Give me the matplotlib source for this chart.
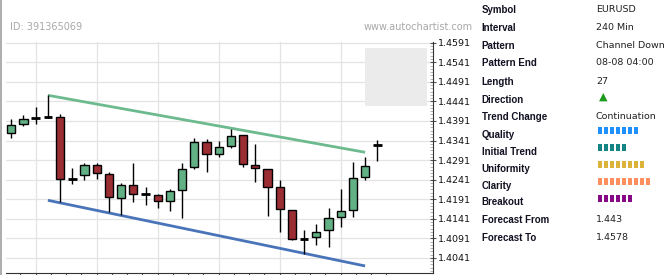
import matplotlib
matplotlib.use("Agg")
import matplotlib.pyplot as plt
from matplotlib.patches import Rectangle
from matplotlib.lines import Line2D
from matplotlib.ticker import FixedLocator, AutoMinorLocator, FormatStrFormatter

# candle data (EURUSD, 240 min)
opens = [1.43595, 1.43825, 1.4400, 1.44019, 1.44004, 1.42428, 1.42522, 1.42785, 1.42548, 1.4195,
         1.42267, 1.42044, 1.42011, 1.41858, 1.42139, 1.42726, 1.43365, 1.43059, 1.43278, 1.43544,
         1.42785, 1.42675, 1.42215, 1.41628, 1.40902, 1.40938, 1.41117, 1.41449, 1.41628, 1.42471,
         1.43304]
highs = [1.43961, 1.44055, 1.4426, 1.44566, 1.44081, 1.42716, 1.42829, 1.42829, 1.42599, 1.42325,
         1.42829, 1.42231, 1.42044, 1.4218, 1.42829, 1.43467, 1.43442, 1.43406, 1.43697, 1.43555,
         1.43314, 1.4268, 1.42402, 1.4163, 1.41125, 1.4127, 1.41679, 1.42164, 1.42854, 1.42982,
         1.43432]
lows = [1.43475, 1.43782, 1.43833, 1.43978, 1.41832, 1.42292, 1.42394, 1.4242, 1.41577, 1.41508,
        1.41832, 1.41756, 1.41679, 1.41602, 1.41423, 1.42683, 1.42599, 1.42997, 1.43212, 1.42726,
        1.42343, 1.4149, 1.41081, 1.40869, 1.40511, 1.40749, 1.40698, 1.41209, 1.41449, 1.42394,
        1.4288]
closes = [1.43807, 1.43961, 1.43994, 1.44019, 1.4242, 1.42428, 1.42785, 1.42573, 1.4196, 1.42267,
          1.42037, 1.42044, 1.41858, 1.42113, 1.42691, 1.43365, 1.43059, 1.43237, 1.43534, 1.42803,
          1.42701, 1.42231, 1.41653, 1.40902, 1.40902, 1.41066, 1.41423, 1.4161, 1.42445, 1.4276,
          1.43304]

# channel lines
line_x = [3, 29]
resistance = [1.44566, 1.4311]
support = [1.41883, 1.40205]

# forecast
forecast_x = [29, 34.05]
forecast_from = 1.443
forecast_to = 1.4578

ytick_vals = [1.4041 + 0.005 * k for k in range(12)]

labels = ["Symbol", "Interval", "Pattern", "Pattern End", "Length", "Direction", "Trend Change",
          "Quality", "Initial Trend", "Uniformity", "Clarity", "Breakout", "Forecast From", "Forecast To"]
values = ["EURUSD", "240 Min", "Channel Down", "08-08 04:00", "27", None, "Continuation",
          None, None, None, None, None, "1.443", "1.4578"]
score_names = ["Quality", "Initial Trend", "Uniformity", "Clarity", "Breakout"]
score_vals = [7, 5, 8, 9, 6]
score_cols = ["#1e90ff", "#148484", "#dbb33b", "#ff8f5e", "#860a86"]

W, H = 672, 275
fig = plt.figure(figsize=(W / 100, H / 100), dpi=100)
fig.patch.set_facecolor("white")

def fx(px):
    return px / W

def fy(py):
    return 1 - py / H

ax = fig.add_axes([fx(6), fy(272.7), fx(432.7 - 6), (272.7 - 42) / H])
ax.set_xlim(-0.434, 34.54)
ax.set_ylim(1.40033, 1.45928)

# grid
for v in ytick_vals:
    ax.axhline(v, color="#e3e3e3", lw=0.9, zorder=0)
for gx in range(2, 30, 5):
    ax.axvline(gx, color="#e3e3e3", lw=0.9, zorder=0)

ax.add_patch(Rectangle((forecast_x[0], forecast_from), forecast_x[1] - forecast_x[0],
                       forecast_to - forecast_from, facecolor="#ebebeb", edgecolor="none", zorder=1))

ax.plot(line_x, resistance, color="#6dba8f", lw=2, zorder=2, solid_capstyle="butt")
ax.plot(line_x, support, color="#4a74b9", lw=2, zorder=2, solid_capstyle="butt")

green = "#62b185"
red = "#9b2e33"
for i, (o, h, l, c) in enumerate(zip(opens, highs, lows, closes)):
    ax.vlines(i, l, h, color="black", lw=1, zorder=3)
    if abs(c - o) < 0.0001:
        ax.hlines(c, i - 0.36, i + 0.36, color="black", lw=2, zorder=4)
    else:
        col = green if c > o else red
        ax.bar(i, c - o, bottom=o, width=0.66, color=col, edgecolor="black", lw=1, zorder=4)

ax.spines["left"].set_visible(False)
ax.spines["top"].set_visible(False)
ax.spines["right"].set_color("#333333")
ax.spines["bottom"].set_color("#333333")
ax.yaxis.tick_right()
ax.yaxis.set_major_locator(FixedLocator(ytick_vals))
ax.yaxis.set_minor_locator(AutoMinorLocator(6))
ax.yaxis.set_major_formatter(FormatStrFormatter("%.4f"))
ax.tick_params(axis="y", which="major", direction="inout", length=4, width=0.8, color="#555555",
               labelsize=6.8, pad=2, labelcolor="#111111")
ax.tick_params(axis="y", which="minor", direction="in", length=2, width=0.6, color="#aaaaaa")
ax.set_xticks([0.75 + 1.25 * k for k in range(25)])
ax.set_xticklabels([])
ax.tick_params(axis="x", direction="out", length=3, width=0.8, color="#555555")

# left border of image
fig.add_artist(Line2D([fx(0.8), fx(0.8)], [0, 1], transform=fig.transFigure, color="#a0a0a0", lw=1.2))

fig.text(fx(10), fy(27), "ID: 391365069", fontsize=7, color="#a8a8a8", va="center", ha="left")
fig.text(fx(364), fy(27), "www.autochartist.com", fontsize=7, color="#a8a8a8", va="center", ha="left")

# info table
row_y = [10, 27.7, 45.7, 63.3, 81.7, 99.7, 116.7, 134.7, 151.7, 168.7, 185.7, 202.3, 219.7, 237.7]
for lab, val, y in zip(labels, values, row_y):
    fig.text(fx(481.7), fy(y), lab, fontsize=7, fontweight="bold", family="Liberation Sans",
             color="#111122", va="center", ha="left")
    if val is not None:
        fig.text(fx(596), fy(y - 0.5), val, fontsize=6.8, color="#222222", va="center", ha="left")

fig.text(fx(603.7), fy(96.3), "\u25b2", fontsize=8, color="#1e9a1e", va="center", ha="center")

for name, n, col in zip(score_names, score_vals, score_cols):
    y = row_y[labels.index(name)] - 4
    for k in range(n):
        fig.add_artist(Rectangle((fx(597.7 + 6 * k), fy(y + 3.5)), fx(4.3), 7 / H,
                                 transform=fig.transFigure, facecolor=col, edgecolor="none"))

fig.savefig("out.png", dpi=100)
